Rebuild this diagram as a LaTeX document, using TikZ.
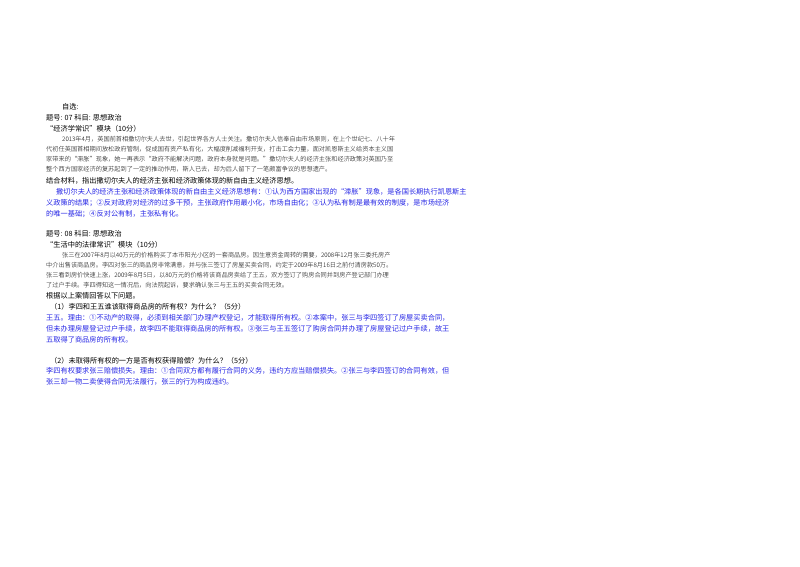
\documentclass[tikz,border=0pt]{standalone}
\usepackage{fontspec}
\setmainfont{Noto Sans CJK SC}
\newfontfamily\cjkl{Noto Sans CJK SC Light}
\definecolor{ansblue}{RGB}{40,40,230}
\begin{document}
\begin{tikzpicture}[x=1pt,y=-1pt,
  ln/.style={anchor=base west,inner sep=0pt,font=\fontsize{7.2}{8}\selectfont},
  bd/.style={anchor=base west,inner sep=0pt,font=\cjkl\fontsize{6.2}{7}\selectfont},
  an/.style={anchor=base west,inner sep=0pt,text=ansblue,font=\fontsize{7.2}{8}\selectfont}]
\useasboundingbox[fill=white] (0,0) rectangle (800,566);
\node[ln] (t0) at (62,109) {自选:};
\node[ln] (t1) at (46,120) {题号: 07 科目: 思想政治};
\node[ln] (t2) at (46,131) {“经济学常识”模块（10分）};
\node[bd] (p1) at (62,141) {2013年4月，英国前首相撒切尔夫人去世，引起世界各方人士关注。撒切尔夫人信奉自由市场原则，在上个世纪七、八十年};
\node[bd] (p2) at (46,151) {代初任英国首相期间放松政府管制，促成国有资产私有化，大幅度削减福利开支，打击工会力量，面对凯恩斯主义给资本主义国};
\node[bd] (p3) at (46,161) {家带来的“滞胀”现象，她一再表示“政府不能解决问题，政府本身就是问题。”撒切尔夫人的经济主张和经济政策对英国乃至};
\node[bd] (p4) at (46,171) {整个西方国家经济的复苏起到了一定的推动作用，斯人已去，却为后人留下了一笔颇富争议的思想遗产。};
\node[ln] (q1) at (46,183) {结合材料，指出撒切尔夫人的经济主张和经济政策体现的新自由主义经济思想。};
\node[an] (a1) at (56,194) {撒切尔夫人的经济主张和经济政策体现的新自由主义经济思想有：①认为西方国家出现的“滞胀”现象，是各国长期执行凯恩斯主};
\node[an] (a2) at (46,205) {义政策的结果；②反对政府对经济的过多干预，主张政府作用最小化，市场自由化；③认为私有制是最有效的制度，是市场经济};
\node[an] (a3) at (46,216) {的唯一基础；④反对公有制，主张私有化。};
\node[ln] (t3) at (46,236) {题号: 08 科目: 思想政治};
\node[ln] (t4) at (46,247) {“生活中的法律常识”模块（10分）};
\node[bd] (r1) at (62,257) {张三在2007年8月以40万元的价格购买了本市阳光小区的一套商品房。因生意资金周转的需要，2008年12月张三委托房产};
\node[bd] (r2) at (46,267) {中介出售该商品房。李四对张三的商品房非常满意，并与张三签订了房屋买卖合同，约定于2009年8月16日之前付清房款50万。};
\node[bd] (r3) at (46,277) {张三看到房价快速上涨，2009年8月5日，以80万元的价格将该商品房卖给了王五，双方签订了购房合同并到房产登记部门办理};
\node[bd] (r4) at (46,287) {了过户手续。李四得知这一情况后，向法院起诉，要求确认张三与王五的买卖合同无效。};
\node[ln] (q2) at (46,298) {根据以上案情回答以下问题。};
\node[ln] (q3) at (50,309) {（1）李四和王五谁该取得商品房的所有权？为什么？（5分）};
\node[an] (b1) at (46,320) {王五。理由：①不动产的取得，必须到相关部门办理产权登记，才能取得所有权。②本案中，张三与李四签订了房屋买卖合同，};
\node[an] (b2) at (46,331) {但未办理房屋登记过户手续，故李四不能取得商品房的所有权。③张三与王五签订了购房合同并办理了房屋登记过户手续，故王};
\node[an] (b3) at (46,342) {五取得了商品房的所有权。};
\node[ln] (q4) at (50,363) {（2）未取得所有权的一方是否有权获得赔偿？为什么？（5分）};
\node[an] (c1) at (46,373) {李四有权要求张三赔偿损失。理由：①合同双方都有履行合同的义务，违约方应当赔偿损失。②张三与李四签订的合同有效，但};
\node[an] (c2) at (46,384) {张三却一物二卖使得合同无法履行，张三的行为构成违约。};
\end{tikzpicture}
\end{document}
